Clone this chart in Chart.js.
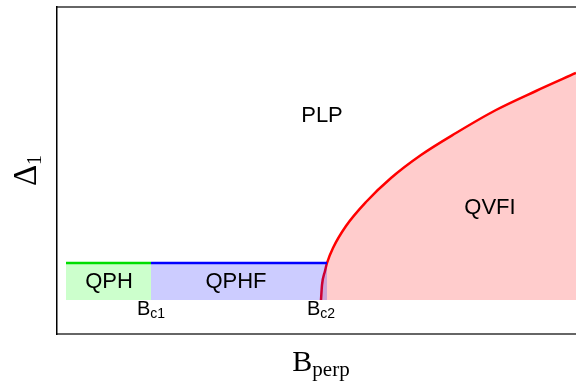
<!DOCTYPE html>
<html>
<head>
<meta charset="utf-8">
<script src="https://cdn.jsdelivr.net/npm/chart.js@4/dist/chart.umd.min.js"></script>
<style>
html, body { margin: 0; padding: 0; background: #fff; }
#wrap { width: 576px; height: 387px; position: relative; }
</style>
</head>
<body>
<div id="wrap"><canvas id="phaseChart"></canvas></div>
<script>
// critical fields and gap level (arbitrary units)
const bc1 = 0.94;
const bc2 = 2.64;
const qphStart = 0.09;
const gapLevel = 0.37;

// QVFI boundary
const qvfiB     = [2.64, 2.65, 2.68, 2.70, 2.76, 2.89, 3.09, 3.34, 3.64, 3.99, 4.39, 4.79, 5.19];
const qvfiDelta = [0.00, 0.15, 0.29, 0.37, 0.52, 0.74, 0.98, 1.22, 1.45, 1.67, 1.90, 2.09, 2.27];

// QPH / QPHF strips
const qphB  = [qphStart, bc1];
const qphfB = [bc1, 2.70];

const regionNames = ['PLP', 'QVFI', 'QPH', 'QPHF'];
const criticalSubs = ['c1', 'c2'];
const criticalFields = [bc1, bc2];

// where the region names sit (data units)
const labelSpots = [[2.65, 1.84], [4.33, 0.92], [0.52, 0.185], [1.79, 0.185]];

function toPoints(xs, ys) {
    return xs.map((b, i) => ({ x: b, y: Array.isArray(ys) ? ys[i] : ys }));
}

// text with a lowered subscript, centred on cx
function drawSubText(ctx, main, sub, cx, baseline, mainFont, subFont, drop) {
    ctx.font = mainFont;
    const w1 = ctx.measureText(main).width;
    ctx.font = subFont;
    const w2 = ctx.measureText(sub).width;
    let left = cx - (w1 + w2) / 2;
    ctx.textAlign = 'left';
    ctx.textBaseline = 'alphabetic';
    ctx.font = mainFont;
    ctx.fillText(main, left, baseline);
    ctx.font = subFont;
    ctx.fillText(sub, left + w1, baseline + drop);
}

const labelPlugin = {
    id: 'phaseLabels',
    afterDraw(chart) {
        const { ctx, chartArea, scales: { x, y } } = chart;
        ctx.save();
        ctx.fillStyle = '#000';

        // region names
        ctx.textAlign = 'center';
        ctx.textBaseline = 'middle';
        ctx.font = '22px "Liberation Sans", Arial, sans-serif';
        regionNames.forEach((name, i) => {
            ctx.fillText(name, x.getPixelForValue(labelSpots[i][0]), y.getPixelForValue(labelSpots[i][1]));
        });

        // Bc1, Bc2 under the strip
        const base = y.getPixelForValue(0);
        criticalFields.forEach((b, i) => {
            drawSubText(ctx, 'B', criticalSubs[i], x.getPixelForValue(b), base + 15,
                '20px "Liberation Sans", Arial, sans-serif',
                '14px "Liberation Sans", Arial, sans-serif', 3);
        });

        // axis titles
        drawSubText(ctx, 'B', 'perp', 321, 371,
            '30px "Liberation Serif", "Times New Roman", serif',
            '21px "Liberation Serif", "Times New Roman", serif', 5);

        ctx.translate(36, (chartArea.top + chartArea.bottom) / 2);
        ctx.rotate(-Math.PI / 2);
        drawSubText(ctx, '\u0394', '1', 0, 0,
            '33px "Liberation Serif", "Times New Roman", serif',
            '20px "Liberation Serif", "Times New Roman", serif', 5);
        ctx.restore();
    }
};

const hiddenAxis = {
    type: 'linear',
    min: 0,
    max: 5.19,
    ticks: { display: false },
    grid: { display: false, drawTicks: false },
    afterFit: (axis) => { axis.height = 0; }
};

new Chart(document.getElementById('phaseChart'), {
    type: 'line',
    data: {
        datasets: [
            {
                label: 'QPHF',
                data: toPoints(qphfB, gapLevel),
                borderColor: '#0000ff',
                borderWidth: 2.5,
                backgroundColor: 'rgba(0, 0, 255, 0.2)',
                fill: 'origin',
                pointRadius: 0
            },
            {
                label: 'QPH',
                data: toPoints(qphB, gapLevel),
                borderColor: '#00dd00',
                borderWidth: 2.5,
                backgroundColor: 'rgba(0, 255, 0, 0.2)',
                fill: 'origin',
                pointRadius: 0
            },
            {
                label: 'QVFI',
                data: toPoints(qvfiB, qvfiDelta),
                borderColor: '#ff0000',
                borderWidth: 2.5,
                backgroundColor: 'rgba(255, 0, 0, 0.2)',
                fill: 'origin',
                cubicInterpolationMode: 'monotone',
                pointRadius: 0
            }
        ]
    },
    options: {
        responsive: true,
        maintainAspectRatio: false,
        animation: false,
        events: [],
        layout: { padding: { left: 57, top: 7, right: 0, bottom: 53 } },
        plugins: {
            legend: { display: false },
            tooltip: { enabled: false },
            title: { display: false }
        },
        scales: {
            x: Object.assign({}, hiddenAxis, {
                position: 'bottom',
                border: { display: true, color: '#666', width: 2 }
            }),
            xTop: Object.assign({}, hiddenAxis, {
                position: 'top',
                border: { display: true, color: '#666', width: 2 }
            }),
            y: {
                type: 'linear',
                min: -0.34,
                max: 2.93,
                ticks: { display: false },
                grid: { display: false, drawTicks: false },
                border: { display: true, color: '#000', width: 1.5 },
                afterFit: (axis) => { axis.width = 0; }
            }
        }
    },
    plugins: [labelPlugin]
});
</script>
</body>
</html>
